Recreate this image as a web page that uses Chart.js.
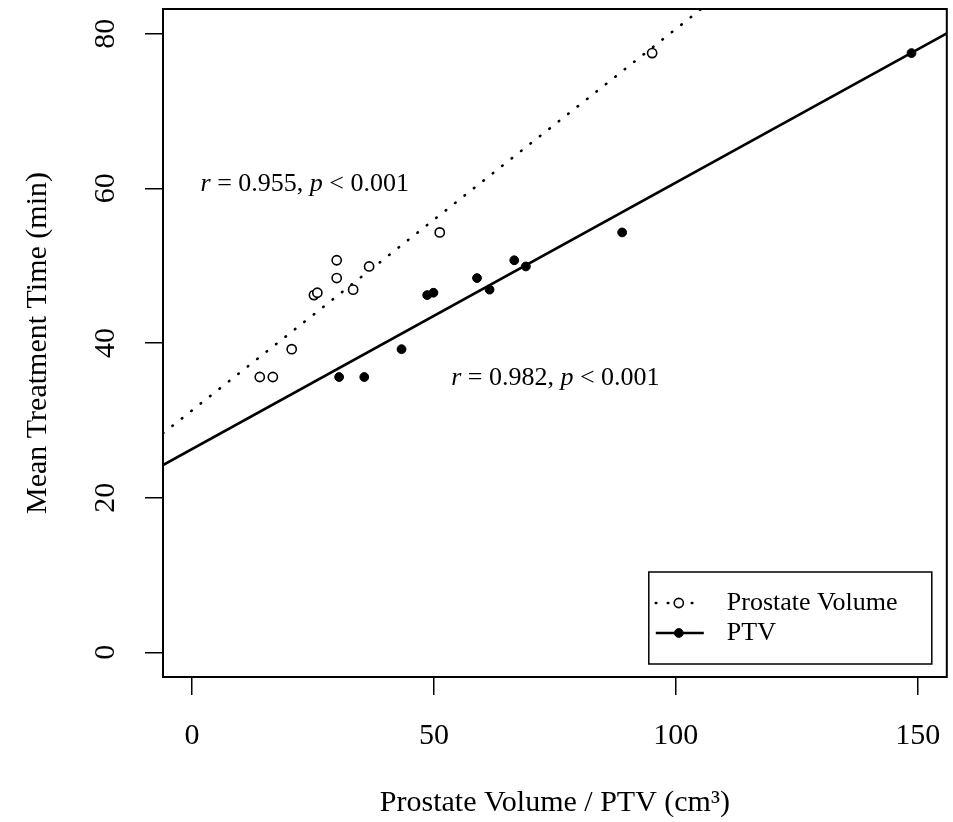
<!DOCTYPE html>
<html>
<head>
<meta charset="utf-8">
<script src="https://cdn.jsdelivr.net/npm/chart.js@4.4.1/dist/chart.umd.min.js"></script>
<style>
  html, body { margin: 0; padding: 0; background: #fff; }
  #wrap { width: 953px; height: 822px; position: relative; }
</style>
</head>
<body>
<div id="wrap"><canvas id="chart"></canvas></div>
<script>
// values (one patient per index)
const pvVolume = [14.0, 16.7, 20.6, 25.2, 25.9, 29.9, 29.9, 33.3, 36.6, 51.2, 95.1];
const ptvVolume = [30.4, 35.6, 43.3, 48.6, 49.9, 58.9, 66.6, 61.5, 69.0, 88.9, 148.7];
const treatmentTime = [35.6, 35.6, 39.2, 46.2, 46.5, 48.4, 50.7, 46.9, 49.9, 54.3, 77.5];

const xTicks = [0, 50, 100, 150];
const yTicks = [0, 20, 40, 60, 80];
const seriesLabels = ['Prostate Volume', 'PTV'];
const rValues = ['0.955', '0.982'];
const pValue = '0.001';

// R style axis range: limits plus 4% on both sides
const xMin = -6, xMax = 156;
const yMin = -3.2, yMax = 83.2;

const SERIF = '"Liberation Serif", "Times New Roman", serif';

function fit(xs, ys) {
    const n = xs.length;
    const mx = xs.reduce((a, b) => a + b, 0) / n;
    const my = ys.reduce((a, b) => a + b, 0) / n;
    let sxy = 0, sxx = 0;
    for (let i = 0; i < n; i++) {
        sxy += (xs[i] - mx) * (ys[i] - my);
        sxx += (xs[i] - mx) * (xs[i] - mx);
    }
    const slope = sxy / sxx;
    return { slope: slope, intercept: my - slope * mx };
}

function fitLine(xs, ys) {
    const f = fit(xs, ys);
    return [xMin, xMax].map(x => ({ x: x, y: f.intercept + f.slope * x }));
}

const pvPoints = pvVolume.map((v, i) => ({ x: v, y: treatmentTime[i] }));
const ptvPoints = ptvVolume.map((v, i) => ({ x: v, y: treatmentTime[i] }));

const dotted = [0.5, 11.5];

// keep the plot box where R put it, no room for overhanging labels
function noPad(s) {
    s.paddingTop = 0;
    s.paddingBottom = 0;
    s.paddingLeft = 0;
    s.paddingRight = 0;
}

// box, r/p text and legend, drawn on top of the chart
const extras = {
    id: 'extras',
    afterDraw(chart) {
        const { ctx, chartArea: a, scales } = chart;
        ctx.save();
        ctx.strokeStyle = '#000';
        ctx.lineWidth = 2;
        ctx.strokeRect(a.left, a.top, a.right - a.left, a.bottom - a.top);

        // correlation text
        const spots = [[23.3, 60.6], [75.1, 35.5]];
        rValues.forEach((r, i) => {
            const parts = [
                ['r', true], [' = ' + r + ', ', false], ['p', true], [' < ' + pValue, false]
            ];
            const fontOf = it => (it ? 'italic ' : '') + '26px ' + SERIF;
            let total = 0;
            parts.forEach(p => { ctx.font = fontOf(p[1]); total += ctx.measureText(p[0]).width; });
            let x = scales.x.getPixelForValue(spots[i][0]) - total / 2;
            const y = scales.y.getPixelForValue(spots[i][1]);
            ctx.fillStyle = '#000';
            ctx.textBaseline = 'middle';
            ctx.textAlign = 'left';
            parts.forEach(p => {
                ctx.font = fontOf(p[1]);
                ctx.fillText(p[0], x, y);
                x += ctx.measureText(p[0]).width;
            });
        });

        // legend
        const bw = 283, bh = 92;
        const bx = a.right - 15 - bw, by = a.bottom - 13 - bh;
        ctx.lineWidth = 1.5;
        ctx.strokeRect(bx, by, bw, bh);
        [0, 1].forEach(i => {
            const line = chart.data.datasets[i + 2];
            const pts = chart.data.datasets[i];
            const ry = by + 31 + i * 30;
            ctx.beginPath();
            ctx.setLineDash(line.borderDash || []);
            ctx.lineCap = line.borderCapStyle || 'butt';
            ctx.lineWidth = line.borderWidth;
            ctx.moveTo(bx + 7, ry);
            ctx.lineTo(bx + 55, ry);
            ctx.stroke();
            ctx.setLineDash([]);
            ctx.beginPath();
            ctx.arc(bx + 30, ry, pts.pointRadius, 0, Math.PI * 2);
            ctx.fillStyle = pts.pointBackgroundColor;
            ctx.fill();
            ctx.lineWidth = pts.pointBorderWidth;
            ctx.stroke();
            ctx.fillStyle = '#000';
            ctx.font = '26px ' + SERIF;
            ctx.textBaseline = 'middle';
            ctx.textAlign = 'left';
            ctx.fillText(seriesLabels[i], bx + 78, ry);
        });
        ctx.restore();
    }
};

new Chart(document.getElementById('chart'), {
    type: 'scatter',
    data: {
        datasets: [
            {
                label: seriesLabels[0],
                data: pvPoints,
                pointRadius: 4.6,
                pointBorderWidth: 1.6,
                pointBorderColor: '#000',
                pointBackgroundColor: '#fff'
            },
            {
                label: seriesLabels[1],
                data: ptvPoints,
                pointRadius: 4.4,
                pointBorderWidth: 1,
                pointBorderColor: '#000',
                pointBackgroundColor: '#000'
            },
            {
                type: 'line',
                label: seriesLabels[0] + ' fit',
                data: fitLine(pvVolume, treatmentTime),
                borderColor: '#000',
                borderWidth: 2.6,
                borderDash: dotted,
                borderCapStyle: 'round',
                pointRadius: 0,
                fill: false
            },
            {
                type: 'line',
                label: seriesLabels[1] + ' fit',
                data: fitLine(ptvVolume, treatmentTime),
                borderColor: '#000',
                borderWidth: 2.6,
                pointRadius: 0,
                fill: false
            }
        ]
    },
    options: {
        responsive: true,
        maintainAspectRatio: false,
        animation: false,
        events: [],
        layout: { padding: { top: 9, right: 3, left: 0, bottom: 0 } },
        plugins: {
            legend: { display: false },
            tooltip: { enabled: false }
        },
        scales: {
            x: {
                type: 'linear',
                min: xMin,
                max: xMax,
                afterBuildTicks: s => { s.ticks = xTicks.map(v => ({ value: v })); },
                afterFit: s => { s.height = 145; noPad(s); },
                border: { display: false },
                grid: { drawOnChartArea: false, drawTicks: true, tickLength: 18, color: '#000', lineWidth: 1.5 },
                ticks: { color: '#000', padding: 23, font: { family: SERIF, size: 30 } },
                title: {
                    display: true,
                    text: 'Prostate Volume / PTV (cm\u00b3)',
                    color: '#000',
                    font: { family: SERIF, size: 30 },
                    padding: { top: 0, bottom: 1 }
                }
            },
            y: {
                type: 'linear',
                min: yMin,
                max: yMax,
                afterBuildTicks: s => { s.ticks = yTicks.map(v => ({ value: v })); },
                afterFit: s => { s.width = 163; noPad(s); },
                border: { display: false },
                grid: { drawOnChartArea: false, drawTicks: true, tickLength: 18, color: '#000', lineWidth: 1.5 },
                ticks: {
                    color: '#000', padding: 24, crossAlign: 'center',
                    minRotation: 90, maxRotation: 90,
                    font: { family: SERIF, size: 30 }
                },
                title: {
                    display: true,
                    text: 'Mean Treatment Time (min)',
                    color: '#000',
                    font: { family: SERIF, size: 30 },
                    padding: { top: 20, bottom: 0 }
                }
            }
        }
    },
    plugins: [extras]
});
</script>
</body>
</html>
